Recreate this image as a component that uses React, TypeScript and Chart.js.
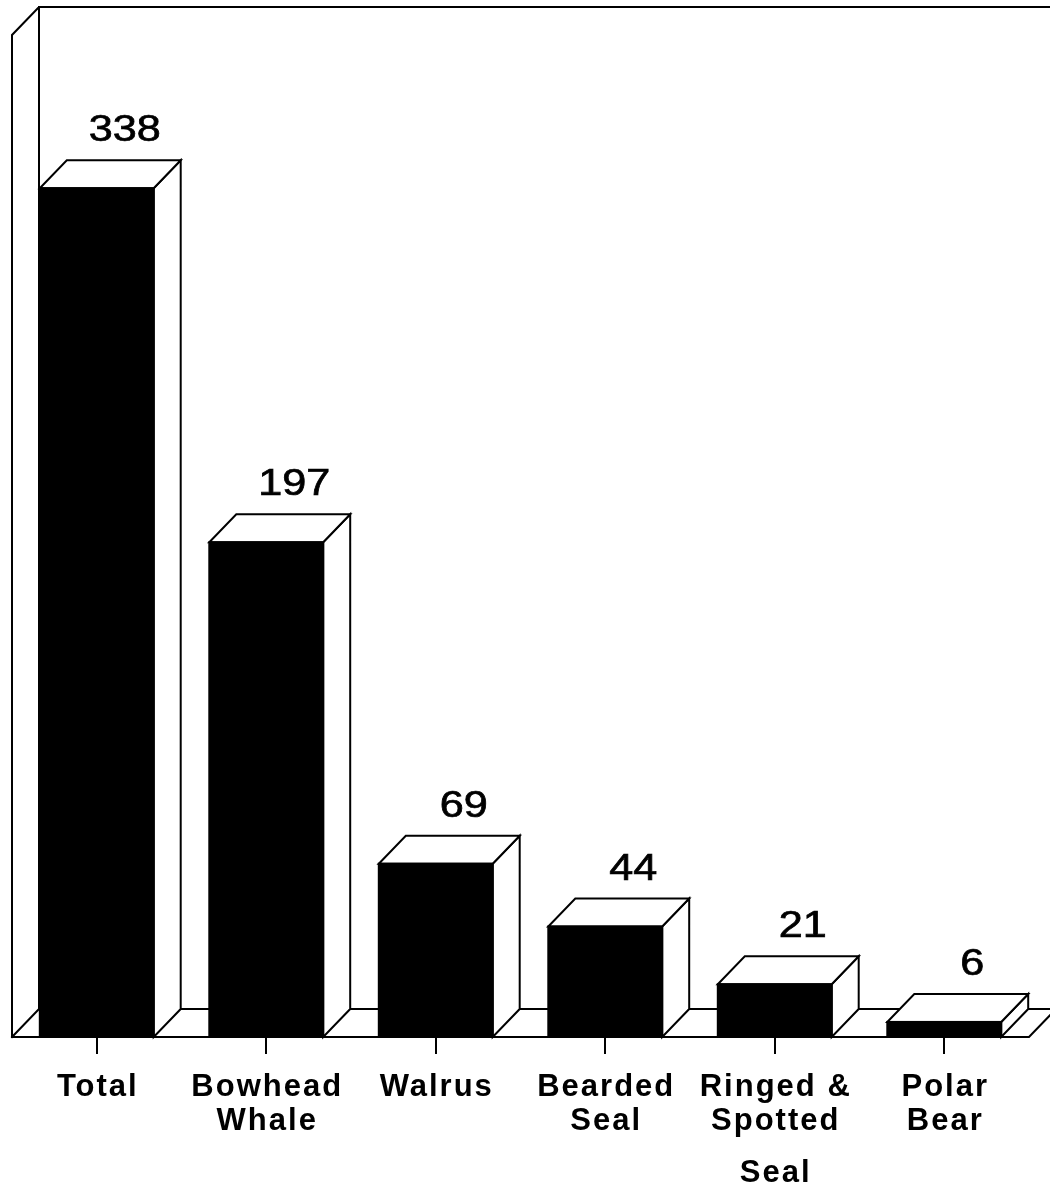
import React, { useEffect, useRef } from "react";
import { Chart, registerables } from "chart.js";

Chart.register(...registerables);

// ---- data ----
const categoryLabels: string[][] = [
  ["Total"],
  ["Bowhead", "Whale"],
  ["Walrus"],
  ["Bearded", "Seal"],
  ["Ringed &", "Spotted", "Seal"],
  ["Polar", "Bear"],
];
const harvestCounts: number[] = [338, 197, 69, 44, 21, 6];
const yAxisMax = 399;

// ---- style ----
const DX = 27;
const DY = 28;
const LINE = 2;
const FONT = "'Liberation Sans', Arial, Helvetica, sans-serif";

const threeDPlugin = {
  id: "threeD",
  beforeDatasetsDraw(chart: any) {
    const { ctx, chartArea } = chart;
    const { left, right, top, bottom } = chartArea;
    ctx.save();
    ctx.strokeStyle = "#000";
    ctx.lineWidth = LINE;
    ctx.lineCap = "square";
    ctx.beginPath();
    ctx.moveTo(left, bottom);
    ctx.lineTo(left, top);
    ctx.lineTo(left + DX, top - DY);
    ctx.lineTo(chart.width + 10, top - DY);
    ctx.moveTo(left + DX, top - DY);
    ctx.lineTo(left + DX, bottom - DY);
    ctx.moveTo(left + DX, bottom - DY);
    ctx.lineTo(chart.width + 10, bottom - DY);
    ctx.moveTo(left, bottom);
    ctx.lineTo(left + DX, bottom - DY);
    ctx.moveTo(left, bottom);
    ctx.lineTo(right, bottom);
    ctx.lineTo(right + DX, bottom - DY);
    ctx.stroke();
    ctx.restore();
  },
  afterDatasetsDraw(chart: any) {
    const { ctx } = chart;
    const meta = chart.getDatasetMeta(0);
    ctx.save();
    ctx.strokeStyle = "#000";
    ctx.lineWidth = LINE;
    ctx.lineJoin = "miter";
    meta.data.forEach((bar: any, i: number) => {
      const x0 = bar.x - bar.width / 2;
      const x1 = bar.x + bar.width / 2;
      const yt = bar.y;
      const yb = bar.base;
      ctx.lineWidth = LINE;
      ctx.strokeStyle = "#000";
      // side face
      ctx.beginPath();
      ctx.moveTo(x1, yt);
      ctx.lineTo(x1 + DX, yt - DY);
      ctx.lineTo(x1 + DX, yb - DY);
      ctx.lineTo(x1, yb);
      ctx.closePath();
      ctx.fillStyle = "#fff";
      ctx.fill();
      ctx.stroke();
      // top face
      ctx.beginPath();
      ctx.moveTo(x0, yt);
      ctx.lineTo(x0 + DX, yt - DY);
      ctx.lineTo(x1 + DX, yt - DY);
      ctx.lineTo(x1, yt);
      ctx.closePath();
      ctx.fill();
      ctx.stroke();
      ctx.strokeRect(x0, yt, x1 - x0, yb - yt);
      // value label (wide, medium weight)
      ctx.save();
      ctx.translate(bar.x + DX + 1, yt - DY - 19);
      ctx.scale(1.2, 1);
      ctx.fillStyle = "#000";
      ctx.strokeStyle = "#000";
      ctx.lineWidth = 0.7;
      ctx.font = `36px ${FONT}`;
      ctx.textAlign = "center";
      ctx.textBaseline = "alphabetic";
      const t = String(harvestCounts[i]);
      ctx.fillText(t, 0, 0);
      ctx.strokeText(t, 0, 0);
      ctx.restore();
    });
    ctx.restore();
  },
  afterDraw(chart: any) {
    const { ctx, chartArea } = chart;
    const xs = chart.scales.x;
    ctx.save();
    ctx.fillStyle = "#000";
    ctx.font = `bold 31px ${FONT}`;
    ctx.textAlign = "center";
    ctx.textBaseline = "alphabetic";
    const spacing = 2;
    (ctx as any).letterSpacing = `${spacing}px`;
    categoryLabels.forEach((lines, i) => {
      const cx = xs.getPixelForValue(i) + spacing / 2;
      lines.forEach((line, j) => {
        const y = chartArea.bottom + 59 + j * 34 + (j >= 2 ? 18 : 0);
        ctx.fillText(line, cx, y);
      });
    });
    ctx.restore();
  },
};

export default function App() {
  const canvasRef = useRef<HTMLCanvasElement | null>(null);

  useEffect(() => {
    const canvas = canvasRef.current;
    if (!canvas) return;
    const chart = new Chart(canvas, {
      type: "bar",
      data: {
        labels: categoryLabels,
        datasets: [
          {
            data: harvestCounts,
            backgroundColor: "#000",
            borderWidth: 0,
            categoryPercentage: 1,
            barPercentage: 0.672,
          },
        ],
      },
      options: {
        responsive: false,
        animation: false,
        devicePixelRatio: 1,
        layout: { padding: { left: 12, right: 21, top: 35, bottom: 0 } },
        plugins: {
          legend: { display: false },
          tooltip: { enabled: false },
        },
        scales: {
          x: {
            grid: {
              display: true,
              drawOnChartArea: false,
              drawTicks: true,
              tickLength: 17,
              offset: false,
              color: "#000",
              lineWidth: 2,
            },
            border: { display: false },
            ticks: { display: false },
            afterFit: (scale: any) => {
              scale.height = 149;
            },
          },
          y: { display: false, min: 0, max: yAxisMax },
        },
      },
      plugins: [threeDPlugin],
    });
    return () => chart.destroy();
  }, []);

  return (
    <div
      style={{
        position: "absolute",
        left: 0,
        top: 0,
        width: 1050,
        height: 1186,
        background: "#fff",
      }}
    >
      <canvas ref={canvasRef} width={1050} height={1186} />
    </div>
  );
}
